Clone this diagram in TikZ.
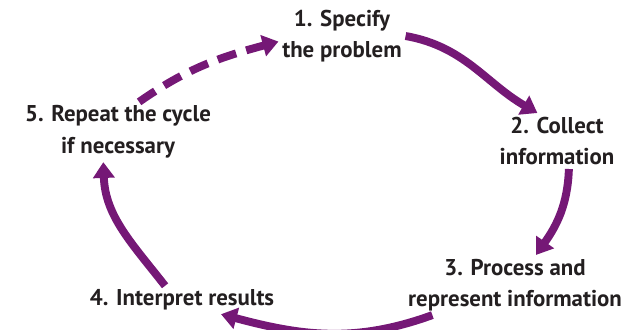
\documentclass[tikz,border=0pt]{standalone}
\usepackage{fontspec}
\setmainfont{PT Sans}
\usetikzlibrary{arrows.meta}
\definecolor{cyclepurple}{RGB}{117,24,118}
\definecolor{stagetext}{RGB}{35,31,32}

\begin{document}
\begin{tikzpicture}[x=0.02cm, y=0.02cm,
		stage/.style={align=center, text=stagetext, inner sep=2pt,
			font=\bfseries\fontsize{13}{18}\selectfont},
		cyc/.style={line width=4.5pt, draw=cyclepurple,
			-{Triangle[length=9pt,width=12pt]}}]
			%%%%% START %%%%%
			
			\useasboundingbox (0,0) rectangle (624,329);
			
			\node[stage] (specify) at (342,293) {1. Specify\\the problem};
			\node[stage] (collect) at (557,188) {2. Collect\\information};
			\node[stage] (process) at (515,44) {3. Process and\\represent information};
			\node[stage] (interpret) at (182,29) {4. Interpret results};
			\node[stage] (repeat) at (118,197) {5. Repeat the cycle\\if necessary};
			
			\draw[cyc] (specify.east) to[out=-10, in=150] (collect.125);
			\draw[cyc] (collect.-67) to[out=-92, in=55] (process.55);
			\draw[cyc] (process.-160) to[out=200, in=-15] (interpret.-20);
			\draw[cyc] (interpret.140) to[out=128, in=-88] (repeat.-116);
			\draw[cyc, dash pattern=on 11pt off 6pt] (repeat.55) to[out=35, in=195] (specify.185);
			
			%%%%% END %%%%%
		\end{tikzpicture}
\end{document}
